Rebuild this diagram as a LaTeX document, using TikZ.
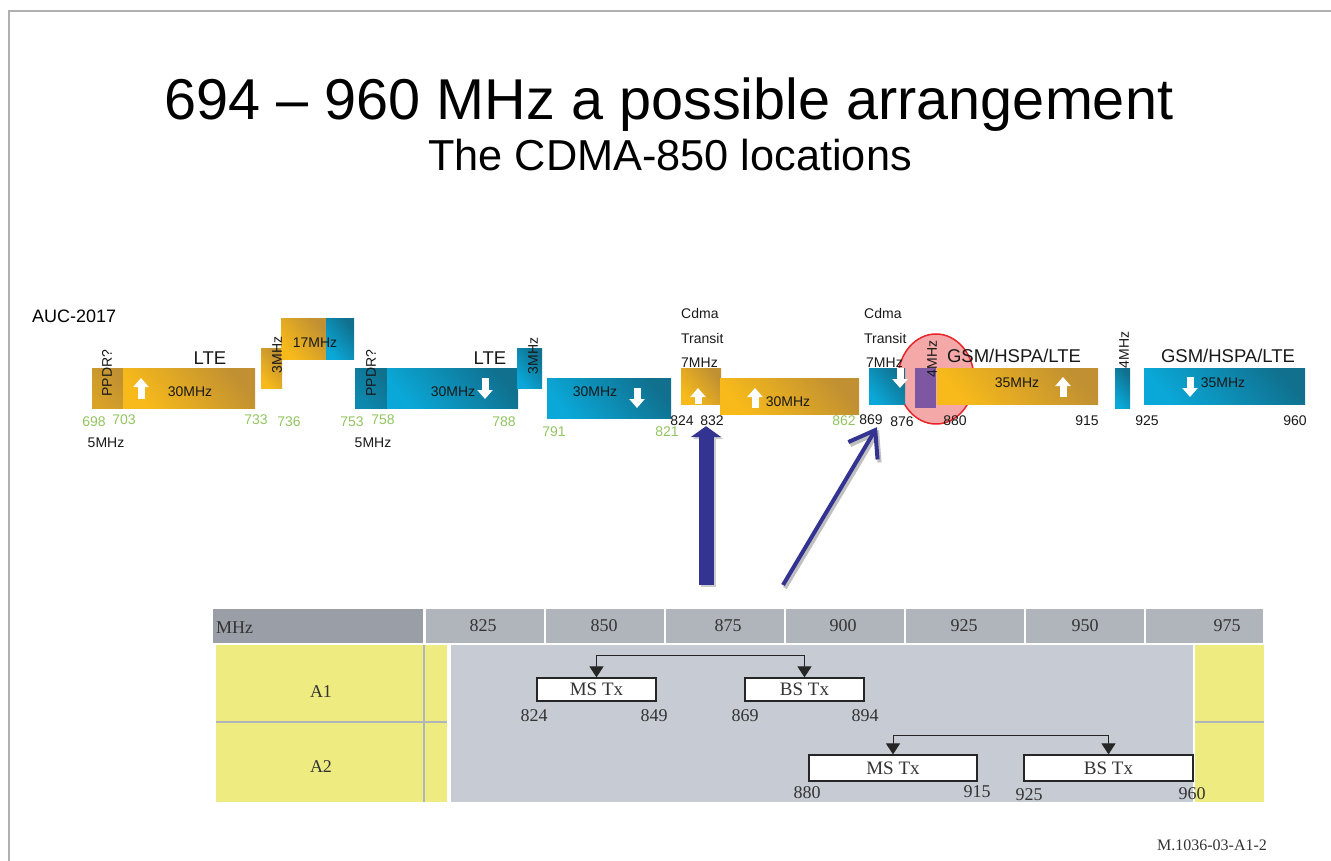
\documentclass[tikz,border=0pt]{standalone}
\usepackage{fontspec}
\setmainfont{Liberation Sans}
\newfontfamily\tabfont{Liberation Serif}
\usetikzlibrary{arrows.meta,positioning}

\definecolor{orgLight}{RGB}{248,186,26}
\definecolor{orgDark}{RGB}{192,144,50}
\definecolor{bluLight}{RGB}{10,168,216}
\definecolor{bluDark}{RGB}{16,112,142}
\definecolor{numGreen}{RGB}{146,196,96}
\definecolor{arrBlue}{RGB}{51,51,145}
\definecolor{hdrDark}{RGB}{154,159,167}
\definecolor{hdrLight}{RGB}{176,180,187}
\definecolor{bodyGray}{RGB}{199,203,211}
\definecolor{cellYellow}{RGB}{238,235,128}
\definecolor{ringRed}{RGB}{232,38,42}
\definecolor{ringFill}{RGB}{244,168,168}
\definecolor{gsmPurple}{RGB}{126,87,163}
\definecolor{frameGray}{RGB}{176,176,176}

\begin{document}
\begin{tikzpicture}[
    x=1pt, y=-1pt,
    upband/.style={top color=orgDark, bottom color=orgLight, shading angle=-50},
    dnband/.style={top color=bluDark, bottom color=bluLight, shading angle=-50},
    ppup/.style={top color=orgDark, bottom color=orgDark!55!orgLight, shading angle=-50},
    ppdn/.style={top color=bluDark, bottom color=bluDark!55!bluLight, shading angle=-50},
    bandarr/.style={white, line width=7pt, -{Triangle[length=9pt,width=15pt]}},
    lbl/.style={font=\fontsize{14}{16}\selectfont, inner sep=0pt, text=black!90},
    grn/.style={lbl, text=numGreen},
    vlbl/.style={lbl, rotate=90},
    bandname/.style={font=\fontsize{18.5}{21}\selectfont, inner sep=0pt, text=black!90},
    gsmname/.style={font=\fontsize{18.5}{21}\selectfont, inner sep=0pt, text=black!90},
    tab/.style={font=\tabfont\fontsize{18}{20}\selectfont, text=black!80, inner sep=0pt},
    txbox/.style={tab, font=\tabfont\fontsize{19}{21}\selectfont, draw=black!85, fill=white, line width=1.2pt, inner sep=0pt},
    pair/.style={{Triangle[length=11pt,width=14pt]}-{Triangle[length=11pt,width=14pt]}, line width=1pt, black!85},
    bigarr/.style={arrBlue, line width=15pt, -{Triangle[length=11pt,width=30pt]}},
    thinarr/.style={arrBlue, line width=4pt, -{Straight Barb[length=24pt,width=34pt]}}
]
\useasboundingbox (0,0) rectangle (1331,861);

% frame
\draw[frameGray, line width=2pt] (9,861) -- (9,11) -- (1331,11);

% titles
\node[font=\fontsize{57.6}{62}\selectfont, anchor=base, inner sep=0pt] (title) at (669,120) {694 -- 960 MHz a possible arrangement};
\node[font=\fontsize{43.3}{48}\selectfont, anchor=base, inner sep=0pt] (subtitle) at (670,171) {The CDMA-850 locations};

\node[font=\fontsize{18}{20}\selectfont, anchor=west, inner sep=0pt] (auc) at (32,316) {AUC-2017};

% ring behind the 880 edge
\draw[ringRed, fill=ringFill, line width=1.5pt] (936,379) ellipse [x radius=38, y radius=45];

% uplink bands
\shade[ppup] (92,368) rectangle (123,408);
\shade[upband] (123,368) rectangle (255,408);
\shade[upband] (261,348) rectangle (282,388);
\shade[upband] (281,318) rectangle (326,359);
\shade[upband] (681,368) rectangle (721,404);
\shade[upband] (720,378) rectangle (859,414);
\shade[upband] (937,368) rectangle (1098,404);

% downlink bands
\shade[dnband] (326,318) rectangle (354,359);
\shade[ppdn] (355,368) rectangle (387,408);
\shade[dnband] (387,368) rectangle (518,408);
\shade[dnband] (517,348) rectangle (542,388);
\shade[dnband] (547,378) rectangle (671,418);
\shade[dnband] (869,368) rectangle (905,404);
\shade[dnband] (1115,368) rectangle (1130,408);
\shade[dnband] (1144,368) rectangle (1305,404);

\fill[gsmPurple] (915,368) rectangle (936,408);

% direction arrows
\draw[bandarr] (141,399) -- (141,378);
\draw[bandarr] (485,378) -- (485,399);
\draw[bandarr] (637,388) -- (637,408);
\draw[bandarr] (698,404) -- (698,388);
\draw[bandarr] (755,408) -- (755,388);
\draw[bandarr] (900,368) -- (900,388);
\draw[bandarr] (1063,397) -- (1063,377);
\draw[bandarr] (1190,377) -- (1190,397);

% band texts
\node[bandname] (lteA) at (210,358) {LTE};
\node[bandname] (lteB) at (490,358) {LTE};
\node[gsmname] (gsmA) at (1014,356) {GSM/HSPA/LTE};
\node[gsmname] (gsmB) at (1228,356) {GSM/HSPA/LTE};
\node[lbl] (bwA) at (190,392) {30MHz};
\node[lbl] (bwB) at (453,392) {30MHz};
\node[lbl] (bwC) at (595,392) {30MHz};
\node[lbl] (bwD) at (788,402) {30MHz};
\node[lbl] (bwE) at (315,343) {17MHz};
\node[lbl] (bwF) at (1017,383) {35MHz};
\node[lbl] (bwG) at (1223,383) {35MHz};
\node[vlbl] (ppdrA) at (107,373) {PPDR?};
\node[vlbl] (ppdrB) at (371,373) {PPDR?};
\node[vlbl] (gapA) at (277,355) {3MHz};
\node[vlbl] (gapB) at (533,356) {3MHz};
\node[vlbl] (gapC) at (932,359) {4MHz};
\node[vlbl] (gapD) at (1124,350) {4MHz};
\node[lbl] (ppbwA) at (106,443) {5MHz};
\node[lbl] (ppbwB) at (373,443) {5MHz};

% cdma transit notes
\node[lbl, anchor=west] (cdmaA) at (681,313) {Cdma};
\node[lbl, anchor=west] (transA) at (681,338) {Transit};
\node[lbl, anchor=west] (sevenA) at (681,363) {7MHz};
\node[lbl, anchor=west] (cdmaB) at (864,313) {Cdma};
\node[lbl, anchor=west] (transB) at (864,338) {Transit};
\node[lbl, anchor=west] (sevenB) at (866,363) {7MHz};

% band edges
\node[grn] (n698) at (94,422) {698};
\node[grn] (n703) at (124,420) {703};
\node[grn] (n733) at (256,420) {733};
\node[grn] (n736) at (289,422) {736};
\node[grn] (n753) at (352,422) {753};
\node[grn] (n758) at (383,420) {758};
\node[grn] (n788) at (504,422) {788};
\node[grn] (n791) at (554,432) {791};
\node[grn] (n821) at (667,432) {821};
\node[grn] (n862) at (844,421) {862};
\node[lbl] (n824) at (682,421) {824};
\node[lbl] (n832) at (712,421) {832};
\node[lbl] (n869) at (871,420) {869};
\node[lbl] (n876) at (902,422) {876};
\node[lbl] (n880) at (955,421) {880};
\node[lbl] (n915) at (1087,421) {915};
\node[lbl] (n925) at (1147,421) {925};
\node[lbl] (n960) at (1295,421) {960};

% table header
\fill[hdrDark] (213,609) rectangle (423,643);
\node[tab, anchor=west] (hmhz) at (216,628) {MHz};
\foreach \v/\cx [count=\i from 0] in {825/483,850/604,875/728,900/843,925/964,950/1085,975/1227} {
  \fill[hdrLight] (426+120*\i,609) rectangle ({min(544+120*\i,1263)},643);
  \node[tab] (h\v) at (\cx,626) {\v};
}

% table body
\fill[cellYellow] (216,645) rectangle (447,802);
\fill[bodyGray] (451,645) rectangle (1193,802);
\fill[cellYellow] (1195,645) rectangle (1264,802);
\draw[hdrLight, line width=1.2pt] (424,645) -- (424,802);
\draw[hdrLight, line width=1.2pt] (216,722) -- (447,722);
\draw[hdrLight, line width=1.2pt] (1195,722) -- (1264,722);
\node[tab] (rowA) at (321,692) {A1};
\node[tab] (rowB) at (321,767) {A2};

% duplex pairs
\node[txbox, minimum width=119pt, minimum height=23pt] (ms1) at (596.5,689.5) {MS Tx};
\node[txbox, minimum width=119pt, minimum height=23pt] (bs1) at (804.5,689.5) {BS Tx};
\node[txbox, minimum width=168pt, minimum height=26pt] (ms2) at (893,768) {MS Tx};
\node[txbox, minimum width=169pt, minimum height=26pt] (bs2) at (1108.5,768) {BS Tx};
\draw[pair] (ms1.north) -- ++(0,-22) -| (bs1.north);
\draw[pair] (ms2.north) -- ++(0,-19) -| (bs2.north);

\node[tab] (t824) at (534,716) {824};
\node[tab] (t849) at (654,716) {849};
\node[tab] (t869) at (745,716) {869};
\node[tab] (t894) at (865,716) {894};
\node[tab] (t880) at (807,793) {880};
\node[tab] (t915) at (977,792) {915};
\node[tab] (t925) at (1029,795) {925};
\node[tab] (t960) at (1192,794) {960};

% pointers to the cdma locations
\coordinate (tailA) at (706,585);
\coordinate (tailB) at (783,585);
\draw[bigarr, black!20, transform canvas={shift={(2,2)}}] (tailA) -- (tailA |- n832.south);
\draw[bigarr] (tailA) -- (tailA |- n832.south);
\draw[thinarr, black!25, transform canvas={shift={(2,3)}}] (tailB) -- ([xshift=6pt,yshift=-2pt]n869.south);
\draw[thinarr] (tailB) -- ([xshift=6pt,yshift=-2pt]n869.south);

\node[font=\tabfont\fontsize{16}{18}\selectfont, text=black!80, inner sep=0pt] (figid) at (1212,845) {M.1036-03-A1-2};
\end{tikzpicture}
\end{document}
